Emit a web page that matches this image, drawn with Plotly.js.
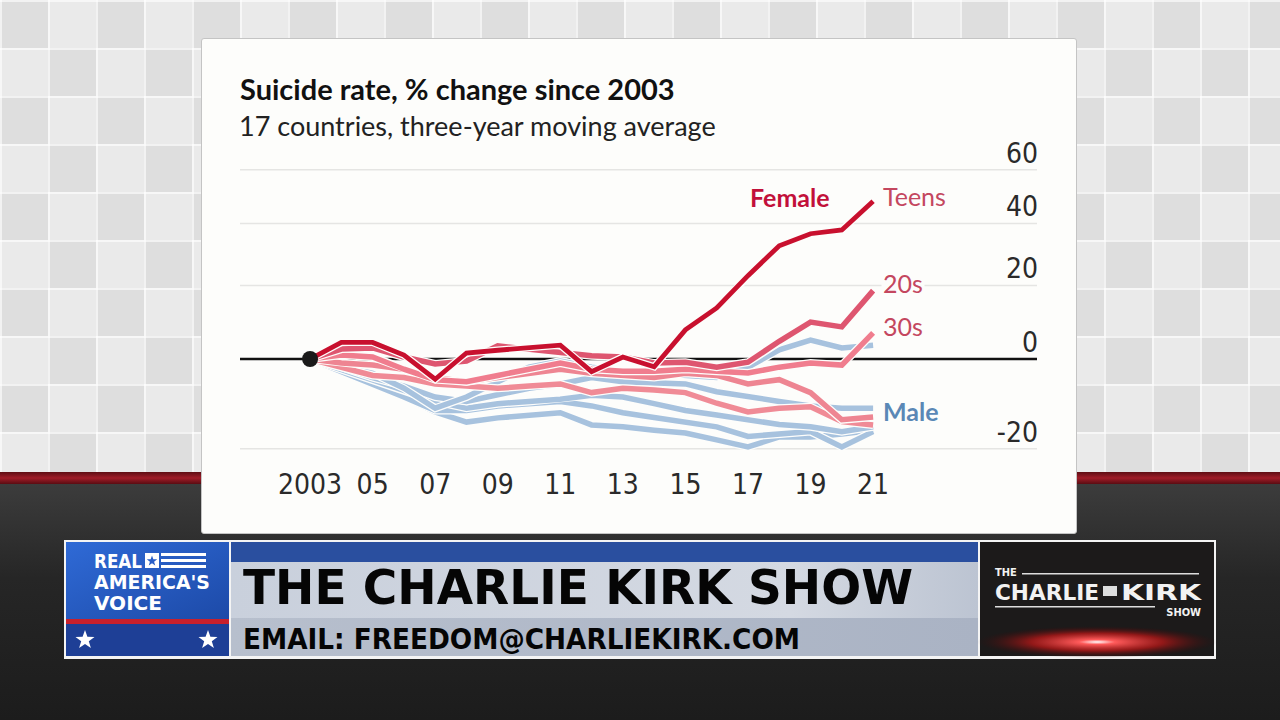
<!DOCTYPE html>
<html><head><meta charset="utf-8">
<script src="https://cdn.plot.ly/plotly-3.0.1.min.js"></script>
<style>
html,body{margin:0;padding:0;width:1280px;height:720px;overflow:hidden;background:#222;}
#bg{position:absolute;left:0;top:0;width:1280px;height:472px;background-color:#e2e2e2;
background-image:
 linear-gradient(90deg, rgba(255,255,255,0.6) 2px, transparent 2px),
 linear-gradient(rgba(255,255,255,0.6) 2px, transparent 2px),
 repeating-conic-gradient(#eaeaea 0 25%, #dedede 0 50%);
background-size:48px 48px,48px 48px,96px 96px;}
#stripe{position:absolute;left:0;top:472px;width:1280px;height:12px;background:linear-gradient(#5e0e14,#a01c28,#5a0c12);}
#bottom{position:absolute;left:0;top:484px;width:1280px;height:236px;background:linear-gradient(#3c3c3c,#262626 40%,#1c1c1c);}
#card{position:absolute;left:201px;top:38px;width:876px;height:496px;background:#fdfdfb;border:1px solid #c4c4c4;border-radius:3px;box-sizing:border-box;}
#chart{position:absolute;left:201px;top:38px;width:876px;height:496px;}
#banner{position:absolute;left:0;top:0;}
</style></head>
<body>
<div id="bg"></div><div id="stripe"></div><div id="bottom"></div>
<div id="card"></div>
<div id="chart"></div>
<svg id="banner" width="1280" height="720" xmlns="http://www.w3.org/2000/svg">
 <defs>
  <linearGradient id="gBlue" x1="0" y1="0" x2="1" y2="1"><stop offset="0" stop-color="#2f6ad6"/><stop offset="1" stop-color="#1d4aa8"/></linearGradient>
  <linearGradient id="gMid" x1="0" y1="0" x2="1" y2="0"><stop offset="0" stop-color="#c9d0dc"/><stop offset="0.75" stop-color="#d4d9e2"/><stop offset="1" stop-color="#bcc4d2"/></linearGradient>
  <linearGradient id="gMid2" x1="0" y1="0" x2="1" y2="0"><stop offset="0" stop-color="#b7bfcd"/><stop offset="1" stop-color="#aab3c4"/></linearGradient>
  <radialGradient id="gGlow" cx="0.5" cy="0.5" r="0.5"><stop offset="0" stop-color="#ffffff"/><stop offset="0.15" stop-color="#ff5a5a"/><stop offset="0.55" stop-color="#b01818" stop-opacity="0.8"/><stop offset="1" stop-color="#3a0808" stop-opacity="0"/></radialGradient>
  <polygon id="star" points="0,-10 2.4,-3.2 9.5,-3.1 3.8,1.2 5.9,8.1 0,4 -5.9,8.1 -3.8,1.2 -9.5,-3.1 -2.4,-3.2"/>
 </defs>
 <rect x="64" y="540" width="1152" height="119" fill="#f4f4f4"/>
 <rect x="66" y="542" width="163" height="77" fill="url(#gBlue)"/>
 <rect x="66" y="619" width="163" height="5" fill="#c8202c"/>
 <rect x="66" y="624" width="163" height="32" fill="#1e3f96"/>
 <use href="#star" x="85" y="640" fill="#fff"/>
 <use href="#star" x="208" y="640" fill="#fff"/>
 <g font-family="'Liberation Sans Narrow','DejaVu Sans Condensed',sans-serif" font-weight="bold" fill="#fff">
  <text x="94" y="568" font-size="19" textLength="48" lengthAdjust="spacingAndGlyphs">REAL</text>
  <rect x="145" y="553" width="14" height="15" fill="#fff"/>
  <use href="#star" transform="translate(152 561) scale(0.55)" fill="#2a5fc8"/>
  <rect x="161" y="553" width="45" height="3" fill="#fff"/>
  <rect x="161" y="559" width="45" height="3" fill="#fff"/>
  <rect x="161" y="565" width="45" height="3" fill="#fff"/>
  <text x="94" y="589" font-size="19" textLength="116" lengthAdjust="spacingAndGlyphs">AMERICA'S</text>
  <text x="94" y="610" font-size="19" textLength="68" lengthAdjust="spacingAndGlyphs">VOICE</text>
 </g>
 <rect x="231" y="542" width="747" height="20" fill="#2a4f9f"/>
 <rect x="231" y="562" width="747" height="56" fill="url(#gMid)"/>
 <rect x="231" y="618" width="747" height="38" fill="url(#gMid2)"/>
 <g font-family="'Liberation Sans Narrow','DejaVu Sans Condensed',sans-serif" font-weight="bold" fill="#050505">
  <text x="243" y="604" font-size="48" textLength="670" lengthAdjust="spacingAndGlyphs">THE CHARLIE KIRK SHOW</text>
  <text x="243" y="649" font-size="28" textLength="557" lengthAdjust="spacingAndGlyphs">EMAIL: FREEDOM@CHARLIEKIRK.COM</text>
 </g>
 <rect x="980" y="542" width="234" height="114" fill="#1c1a1a"/>
 <ellipse cx="1097" cy="642" rx="120" ry="16" fill="url(#gGlow)"/>
 <g font-family="'Liberation Sans Narrow','DejaVu Sans Condensed',sans-serif" font-weight="bold" fill="#f2f2f2">
  <text x="995" y="576" font-size="11">THE</text>
  <rect x="1022" y="573" width="177" height="1.5" fill="#ddd"/>
  <text x="995" y="600" font-size="22" textLength="104" lengthAdjust="spacingAndGlyphs">CHARLIE</text>
  <rect x="1103" y="586" width="14" height="10" fill="#ddd"/>
  <text x="1121" y="600" font-size="22" textLength="80" lengthAdjust="spacingAndGlyphs">KIRK</text>
  <rect x="995" y="606" width="160" height="1.5" fill="#ddd"/>
  <text x="1201" y="616" font-size="11" text-anchor="end">SHOW</text>
 </g>
</svg>
<script>
// ---- data: suicide rate, % change since 2003 (three-year moving average) ----
const years = [2003,2004,2005,2006,2007,2008,2009,2010,2011,2012,2013,2014,2015,2016,2017,2018,2019,2020,2021];

const femaleTeens = [0, 4.2, 4.2, 1.0, -4.9, 1.5, 2.2, 2.8, 3.5, -3.1, 0.5, -1.9, 7.5, 13.5, 23.0, 32.5, 36.5, 37.8, 48.0];
const female20s   = [0, 2.5, 2.8, 0.5, -1.2, -0.5, 3.3, 2.5, 1.5, 0.8, 0.5, -1.0, -0.8, -2.0, -0.8, 4.5, 9.6, 8.3, 18.5];
const female30s   = [0, 1.0, 0.5, -2.5, -5.0, -5.5, -4.0, -2.5, -1.0, -2.5, -3.0, -3.0, -2.5, -3.0, -3.4, -2.0, -1.0, -1.5, 6.7];
const female40s   = [0, -1.0, -1.5, -2.5, -4.5, -5.5, -4.5, -3.5, -2.5, -3.5, -4.0, -4.5, -3.5, -4.0, -6.0, -5.0, -8.0, -14.0, -13.4];
const female50s   = [0, -2.0, -4.0, -4.5, -6.0, -6.5, -7.0, -6.5, -6.0, -8.0, -7.0, -7.4, -8.0, -10.4, -12.3, -11.5, -11.2, -14.4, -15.1];

const maleA = [0, -1.5, -3.5, -7.0, -11.5, -9.0, -5.5, -2.0, -0.5, -2.0, -3.0, -3.5, -4.0, -4.5, -2.0, 2.3, 4.8, 2.8, 3.5];
const maleB = [0, -2.0, -4.5, -6.5, -9.0, -10.0, -8.5, -7.0, -6.0, -4.5, -5.5, -5.8, -6.0, -7.8, -9.0, -10.0, -11.0, -11.5, -11.5];
const maleC = [0, -2.5, -5.0, -7.5, -10.0, -11.5, -10.5, -10.0, -9.5, -8.6, -9.0, -10.5, -12.0, -13.0, -14.0, -15.0, -15.5, -16.5, -15.5];
const maleD = [0, -3.0, -6.0, -9.0, -12.0, -12.0, -11.0, -10.5, -10.0, -11.0, -12.5, -13.5, -14.5, -15.5, -17.5, -17.0, -16.5, -19.6, -16.5];
const maleE = [0, -3.0, -5.1, -9.0, -12.3, -14.5, -13.6, -13.0, -12.5, -15.1, -15.5, -16.2, -16.8, -18.2, -19.6, -17.6, -17.6, -17.0, -16.2];

const xTickVals = [2003,2005,2007,2009,2011,2013,2015,2017,2019,2021];
const xTickText = ['2003','05','07','09','11','13','15','17','19','21'];
const yTickVals = [-20,0,20,40,60];
const yTickText = ['-20','0','20','40','60'];

// ---- styling ----
const BLUE = '#a7c2de';
const PAPER = '#fdfdfb';
const seriesList = [
  {v: maleE, c: BLUE, w: 5.5}, {v: maleD, c: BLUE, w: 5.5}, {v: maleC, c: BLUE, w: 5.5},
  {v: maleB, c: BLUE, w: 5.5}, {v: maleA, c: BLUE, w: 5.5},
  {v: female50s, c: '#f08b96', w: 5.5}, {v: female40s, c: '#ee8592', w: 5.5},
  {v: female30s, c: '#f07d8e', w: 5.5}, {v: female20s, c: '#de5670', w: 5.5},
  {v: femaleTeens, c: '#c8102e', w: 4.8}
];
const toIndex = arr => arr.map(p => 100 + p);   // log scale of relative change
const logPos = p => Math.log10(100 + p);         // annotation position on the log axis

const traces = [];
seriesList.forEach(s => {
  traces.push({x: years, y: toIndex(s.v), mode: 'lines', line: {color: PAPER, width: s.w + 2.5}, hoverinfo: 'skip', showlegend: false});
  traces.push({x: years, y: toIndex(s.v), mode: 'lines', line: {color: s.c, width: s.w}, hoverinfo: 'skip', showlegend: false});
});
traces.push({x: [years[0]], y: toIndex([femaleTeens[0]]), mode: 'markers', marker: {color: '#1a1a1a', size: 16}, hoverinfo: 'skip', showlegend: false});

const lastVal = a => a[a.length - 1];
const lblFont = (c, s) => ({family: 'Lato, "Open Sans", sans-serif', size: s || 25, color: c});
const endX = years[years.length - 1];
const tickFontFam = '"Liberation Sans Narrow","DejaVu Sans Condensed",sans-serif';

// horizontal rules: light grid, black baseline at 0 (beneath the lines); shapes on log axes take data values
const ruleShapes = yTickVals.map(v => ({
  type: 'line', xref: 'paper', x0: 0, x1: 1, yref: 'y', y0: 100 + v, y1: 100 + v,
  line: {color: v === 0 ? '#111111' : '#e5e5e3', width: v === 0 ? 2.5 : 1.5}, layer: 'below'
}));

const layout = {
  width: 876, height: 496,
  margin: {l: 39, r: 40, t: 97, b: 82},
  paper_bgcolor: 'rgba(0,0,0,0)', plot_bgcolor: 'rgba(0,0,0,0)',
  title: {
    text: '<b>Suicide rate, % change since 2003</b>',
    font: {family: 'Lato, "Open Sans", sans-serif', size: 29, color: '#111'},
    x: 39/876, xref: 'container', xanchor: 'left',
    y: 1 - 52/496, yref: 'container', yanchor: 'middle'
  },
  xaxis: {
    range: [2000.76, 2026.24], tickmode: 'array', tickvals: xTickVals, ticktext: xTickText,
    showgrid: false, zeroline: false, showline: false, ticks: '',
    tickfont: {family: tickFontFam, size: 28, color: '#2a2a2a'},
    ticklabelstandoff: 13, fixedrange: true
  },
  yaxis: {
    type: 'log', range: [1.8997, 2.24164], side: 'right',
    tickmode: 'array', tickvals: toIndex(yTickVals), ticktext: yTickText,
    showgrid: false, zeroline: false, showline: false, ticks: '',
    ticklabelposition: 'inside', ticklabelshift: -17, ticklabelstandoff: -4,
    tickfont: {family: tickFontFam, size: 28, color: '#2a2a2a'},
    fixedrange: true
  },
  shapes: ruleShapes,
  annotations: [
    {xref: 'paper', yref: 'paper', x: 0, y: 1, xshift: -3, yshift: 10, xanchor: 'left', yanchor: 'middle', text: '17 countries, three-year moving average', showarrow: false, font: lblFont('#222', 27)},
    {x: 2019.7, y: logPos(lastVal(femaleTeens)), yshift: 4, xanchor: 'right', yanchor: 'middle', text: '<b>Female</b>', showarrow: false, font: lblFont('#c2103a')},
    {x: endX, xshift: 8, y: logPos(lastVal(femaleTeens)), yshift: 5, xanchor: 'left', yanchor: 'middle', text: 'Teens', showarrow: false, font: lblFont('#c4475f')},
    {x: endX, xshift: 8, y: logPos(lastVal(female20s)), yshift: 8, xanchor: 'left', yanchor: 'middle', text: '20s', showarrow: false, bgcolor: PAPER, font: lblFont('#c4475f')},
    {x: endX, xshift: 8, y: logPos(lastVal(female30s)), yshift: 7, xanchor: 'left', yanchor: 'middle', text: '30s', showarrow: false, font: lblFont('#c4475f')},
    {x: endX, xshift: 8, y: logPos(lastVal(maleB)), yshift: -3, xanchor: 'left', yanchor: 'middle', text: '<b>Male</b>', showarrow: false, font: lblFont('#5a88b6')}
  ]
};
Plotly.newPlot('chart', traces, layout, {staticPlot: true, displayModeBar: false});
</script>
</body></html>
